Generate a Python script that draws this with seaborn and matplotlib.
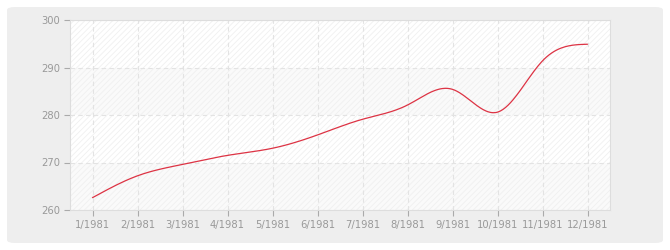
import numpy as np
import pandas as pd
import seaborn as sns
import matplotlib
matplotlib.use("Agg")
import matplotlib.pyplot as plt
from matplotlib.patches import FancyBboxPatch

months = ["1/1981", "2/1981", "3/1981", "4/1981", "5/1981", "6/1981",
          "7/1981", "8/1981", "9/1981", "10/1981", "11/1981", "12/1981"]
values = [262.6, 267.2, 269.6, 271.5, 273.0, 275.8,
          279.1, 282.1, 285.4, 280.6, 291.4, 294.9]
yticks = [260, 270, 280, 290, 300]


def natural_spline(x, y, n=400):
    x = np.asarray(x, float)
    y = np.asarray(y, float)
    k = len(x)
    h = np.diff(x)
    A = np.zeros((k, k))
    b = np.zeros(k)
    A[0, 0] = A[-1, -1] = 1
    for i in range(1, k - 1):
        A[i, i - 1] = h[i - 1]
        A[i, i] = 2 * (h[i - 1] + h[i])
        A[i, i + 1] = h[i]
        b[i] = 6 * ((y[i + 1] - y[i]) / h[i] - (y[i] - y[i - 1]) / h[i - 1])
    M = np.linalg.solve(A, b)
    xs = np.linspace(x[0], x[-1], n)
    idx = np.clip(np.searchsorted(x, xs) - 1, 0, k - 2)
    x0, x1 = x[idx], x[idx + 1]
    hh = x1 - x0
    t1 = x1 - xs
    t0 = xs - x0
    ys = (M[idx] * t1 ** 3 + M[idx + 1] * t0 ** 3) / (6 * hh) \
        + (y[idx] / hh - M[idx] * hh / 6) * t1 \
        + (y[idx + 1] / hh - M[idx + 1] * hh / 6) * t0
    return xs, ys


sns.set_theme(style="white")
plt.rcParams['font.family'] = ['DejaVu Sans']
plt.rcParams['hatch.color'] = '#f0f0f0'
plt.rcParams['hatch.linewidth'] = 0.6

fig = plt.figure(figsize=(6.7, 2.5), dpi=100)
fig.patch.set_facecolor("white")
bg = FancyBboxPatch((7 / 670, 7 / 250), 656 / 670, 236 / 250,
                    boxstyle="round,pad=0,rounding_size=0.012",
                    transform=fig.transFigure, facecolor="#eeeeee",
                    edgecolor="none", zorder=-10)
fig.add_artist(bg)

ax = fig.add_axes([70 / 670, 40 / 250, 540 / 670, 190 / 250])
ax.set_zorder(5)
ax.set_facecolor("white")

for i, (lo, hi) in enumerate(zip(yticks[:-1], yticks[1:])):
    ax.axhspan(lo, hi, facecolor="#fafafa" if i % 2 == 0 else "white",
               hatch="//////", edgecolor="#f0f0f0", linewidth=0, zorder=0)

x = np.arange(len(months))
xs, ys = natural_spline(x, values)
df = pd.DataFrame({"x": xs, "y": ys})
sns.lineplot(data=df, x="x", y="y", ax=ax, color="#dd3344", linewidth=0.9,
             zorder=3)

ax.set_xlim(-0.5, 11.5)
ax.set_ylim(260, 300)
ax.set_xticks(x)
ax.set_xticklabels(months)
ax.set_yticks(yticks)
ax.set_xlabel("")
ax.set_ylabel("")
ax.grid(True, linestyle=(0, (4, 3)), color="#e3e3e3", linewidth=0.8, zorder=1)
ax.set_axisbelow(True)
for s in ax.spines.values():
    s.set_color("#dddddd")
    s.set_linewidth(0.8)
ax.tick_params(axis="both", which="both", length=4, width=0.8,
               color="#aaaaaa", labelcolor="#999999", labelsize=7.2, pad=3,
               bottom=True, left=True)

fig.savefig("out.png", dpi=100)
